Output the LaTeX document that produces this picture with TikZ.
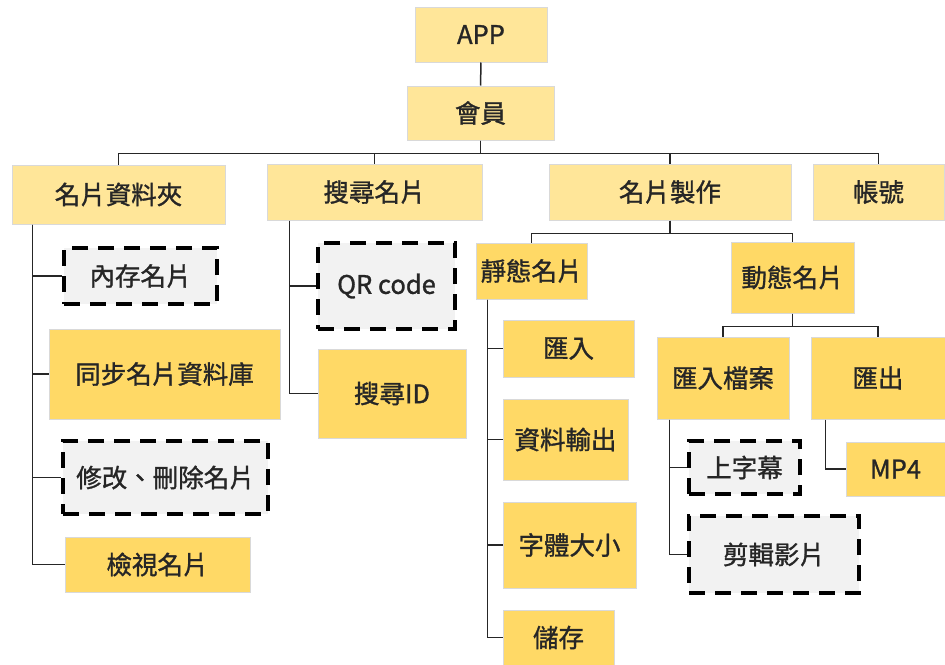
\documentclass[tikz,border=0pt]{standalone}
\usepackage{fontspec}
\setmainfont{Noto Sans CJK TC}
\newfontfamily\labelfont{Noto Sans CJK TC}[FakeBold=1.2]
\usepackage{tikz}

\definecolor{lightgold}{HTML}{FFE699}
\definecolor{gold}{HTML}{FFD966}
\definecolor{paleline}{HTML}{D9D9D9}
\definecolor{darkline}{HTML}{262626}

\tikzset{
  box/.style={draw=paleline,line width=1pt,inner sep=0pt,align=center,
    text=darkline,font=\labelfont\fontsize{25.5}{29}\selectfont},
  topbox/.style={box,fill=lightgold},
  subbox/.style={box,fill=gold},
  dashbox/.style={box,fill=black!5,draw=black,line width=3.5pt,
    dash pattern=on 16pt off 10pt},
  fork/.style={to path={(\tikztostart.south) -- ++(0,13) -| (\tikztotarget.north)}},
  side/.style={to path={([xshift=#1]\tikztostart.south west) |- (\tikztotarget.west)}}
}

\begin{document}
\begin{tikzpicture}[x=1pt,y=-1pt]
  \useasboundingbox[fill=white] (0,0) rectangle (945,664);

  % top
  \node[topbox,minimum width=132,minimum height=55] (app) at (481,34.5) {APP};
  \node[topbox,minimum width=147,minimum height=54] (member) at (480.5,113) {會員};

  % level 1
  \node[topbox,minimum width=213,minimum height=59] (folder) at (118.5,194.5) {名片資料夾};
  \node[topbox,minimum width=215,minimum height=56] (search) at (374.5,192) {搜尋名片};
  \node[topbox,minimum width=242,minimum height=56] (make) at (670,192) {名片製作};
  \node[topbox,minimum width=131,minimum height=56] (account) at (878.5,192) {帳號};

  % folder
  \node[dashbox,minimum width=153,minimum height=56] (memo) at (140.5,276) {內存名片};
  \node[subbox,minimum width=231,minimum height=90] (sync) at (164.5,374) {同步名片資料庫};
  \node[dashbox,minimum width=205,minimum height=73] (edit) at (165.5,477.5) {修改、刪除名片};
  \node[subbox,minimum width=185,minimum height=55] (view) at (157.5,564.5) {檢視名片};

  % search
  \node[dashbox,minimum width=137,minimum height=86] (qr) at (386.5,286) {QR code};
  \node[subbox,minimum width=148,minimum height=89] (sid) at (392,393.5) {搜尋ID};

  % make
  \node[subbox,minimum width=111,minimum height=56] (static) at (531.5,271) {靜態名片};
  \node[subbox,minimum width=123,minimum height=71] (dynamic) at (792.5,277.5) {動態名片};

  \node[subbox,minimum width=131,minimum height=57] (imp) at (568.5,348.5) {匯入};
  \node[subbox,minimum width=125,minimum height=81] (dataout) at (565.5,439.5) {資料輸出};
  \node[subbox,minimum width=133,minimum height=86] (fontsize) at (569.5,545) {字體大小};
  \node[subbox,minimum width=111,minimum height=55] (save) at (558.5,637.5) {儲存};

  \node[subbox,minimum width=132,minimum height=82] (impfile) at (723,378) {匯入檔案};
  \node[subbox,minimum width=134,minimum height=82] (export) at (878,378) {匯出};

  \node[dashbox,minimum width=111,minimum height=53] (subtitle) at (744.5,467.5) {上字幕};
  \node[dashbox,minimum width=170,minimum height=77] (clip) at (774,554.5) {剪輯影片};
  \node[subbox,minimum width=99,minimum height=54] (mp4) at (895.5,469) {MP4};

  \path[draw=darkline,line width=1.5pt]
    (app) edge (member)

    (member) edge[fork] (folder)
    (member) edge[fork] (search)
    (member) edge[fork] (make)
    (member) edge[fork] (account)

    (folder) edge[side=21] (memo)
    (folder) edge[side=21] (sync)
    (folder) edge[side=21] (edit)
    (folder) edge[side=21] (view)

    (search) edge[side=23] (qr)
    (search) edge[side=23] (sid)

    (make) edge[fork] (static)
    (make) edge[fork] (dynamic)

    (static) edge[side=12] (imp)
    (static) edge[side=12] (dataout)
    (static) edge[side=12] (fontsize)
    (static) edge[side=12] (save)

    (dynamic) edge[fork] (impfile)
    (dynamic) edge[fork] (export)

    (impfile) edge[side=13] (subtitle)
    (impfile) edge[side=13] (clip)
    (export) edge[side=15] (mp4);
\end{tikzpicture}
\end{document}
